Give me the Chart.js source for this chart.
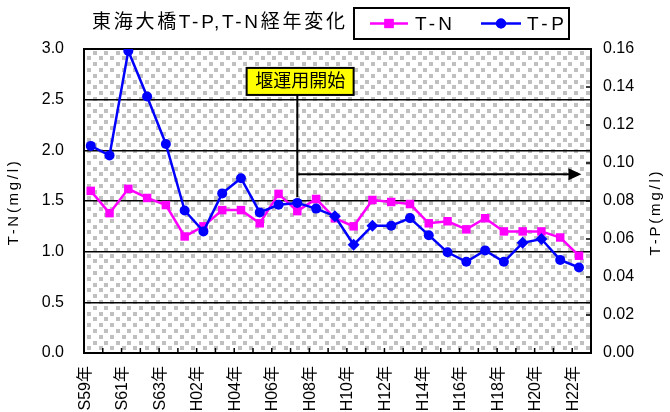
<!DOCTYPE html>
<html>
<head>
<meta charset="utf-8">
<script src="https://cdn.jsdelivr.net/npm/chart.js@4"></script>
<style>
  html, body { margin: 0; padding: 0; background: #fff; }
  #c { display: block; }
</style>
</head>
<body>
<canvas id="c" width="670" height="412"></canvas>
<script>
// Survey years (Showa 59 – Heisei 22)
const years = ['S59年','S60年','S61年','S62年','S63年','H01年','H02年','H03年','H04年','H05年',
  'H06年','H07年','H08年','H09年','H10年','H11年','H12年','H13年','H14年','H15年',
  'H16年','H17年','H18年','H19年','H20年','H21年','H22年'];

// Annual mean total nitrogen (mg/l), left axis
const tnValues = [1.60, 1.38, 1.62, 1.53, 1.46, 1.15, 1.25, 1.41, 1.41, 1.28,
  1.57, 1.40, 1.52, 1.33, 1.25, 1.51, 1.49, 1.47, 1.28, 1.30,
  1.22, 1.33, 1.20, 1.20, 1.20, 1.14, 0.96];

// Annual mean total phosphorus (mg/l), right axis
const tpValues = [0.109, 0.104, 0.159, 0.135, 0.110, 0.075, 0.064, 0.084, 0.092, 0.074,
  0.078, 0.079, 0.076, 0.072, 0.057, 0.067, 0.067, 0.071, 0.062, 0.053,
  0.048, 0.054, 0.048, 0.058, 0.060, 0.049, 0.045];

// Marker shape per T-P point
const tpMarkers = ['circle','circle','circle','circle','circle','circle','circle','circle','circle','circle',
  'circle','circle','circle','rectRot','rectRot','rectRot','circle','circle','circle','circle',
  'circle','circle','circle','rectRot','rectRot','circle','circle'];

// Axis ranges and steps
const tnAxis = { min: 0, max: 3.0, step: 0.5 };
const tpAxis = { min: 0, max: 0.16, step: 0.02 };

// Weir operation start (H07) annotation
const weirNote = { text: '堰運用開始', index: 11, boxIndex: 11.15, boxLevel: 2.68, lineTop: 2.55, lineBottom: 1.54, arrowLevel: 1.765, arrowEnd: 26.13 };

const chartTitle = '東海大橋T-P,T-N経年変化';
const tnTitle = 'T-N(mg/l)';
const tpTitle = 'T-P(mg/l)';

const FONT = '"Liberation Sans", "Noto Sans CJK JP", Arial, sans-serif';
Chart.defaults.font.family = FONT;
Chart.defaults.color = '#000';

// category slots start a little left of each point
const xMin = -0.36, xMax = 26.64, labelShift = -0.3;

function fitText(ctx, text, width) {
  ctx.letterSpacing = '0px';
  const w = ctx.measureText(text).width;
  const sp = (width - w) / Math.max(text.length - 1, 1);
  ctx.letterSpacing = sp.toFixed(2) + 'px';
}

const decor = {
  id: 'decor',
  beforeDraw(chart) {
    const { ctx, chartArea: a } = chart;
    ctx.save();
    ctx.fillStyle = '#fff';
    ctx.fillRect(a.left, a.top, a.right - a.left, a.bottom - a.top);
    ctx.beginPath();
    ctx.rect(a.left, a.top, a.right - a.left, a.bottom - a.top);
    ctx.clip();
    // dotted gray fill of the plot area
    ctx.fillStyle = '#c0c0c0';
    const p = 11.6, s = 4;
    for (let r = -1; a.top + 1.5 + r * p / 2 < a.bottom; r++) {
      const y = a.top + 1.5 + r * p / 2;
      const x0 = a.left + 8.7 - p + ((r & 1) ? p / 2 : 0);
      for (let x = x0; x < a.right; x += p) ctx.fillRect(Math.round(x), Math.round(y), s, s);
    }
    ctx.restore();
  },
  beforeDatasetsDraw(chart) {
    const { ctx, chartArea: a, scales } = chart;
    ctx.save();
    ctx.strokeStyle = '#000';
    // inward tick marks on the category axis
    ctx.lineWidth = 1.5;
    ctx.beginPath();
    for (let k = 0; k <= years.length; k++) {
      const x = scales.x.getPixelForValue(xMin + k);
      ctx.moveTo(x, a.bottom);
      ctx.lineTo(x, a.bottom - 5);
    }
    // inward tick marks on the T-P axis
    for (let v = tpAxis.min; v <= tpAxis.max + 1e-9; v += tpAxis.step) {
      const y = scales.y1.getPixelForValue(v);
      ctx.moveTo(a.right, y);
      ctx.lineTo(a.right - 5, y);
    }
    ctx.stroke();
    // plot frame
    ctx.lineWidth = 2;
    ctx.strokeRect(a.left, a.top, a.right - a.left, a.bottom - a.top);
    ctx.restore();
  },
  afterDatasetsDraw(chart) {
    const { ctx, scales } = chart;
    const xs = scales.x, ys = scales.y;
    ctx.save();
    ctx.strokeStyle = '#000';
    ctx.fillStyle = '#000';
    ctx.lineWidth = 2;
    const lx = xs.getPixelForValue(weirNote.index);
    const ay = ys.getPixelForValue(weirNote.arrowLevel);
    const ax = xs.getPixelForValue(weirNote.arrowEnd);
    ctx.beginPath();
    ctx.moveTo(lx, ys.getPixelForValue(weirNote.lineTop));
    ctx.lineTo(lx, ys.getPixelForValue(weirNote.lineBottom));
    ctx.moveTo(lx, ay);
    ctx.lineTo(ax - 10, ay);
    ctx.stroke();
    ctx.beginPath();
    ctx.moveTo(ax, ay);
    ctx.lineTo(ax - 13, ay - 6);
    ctx.lineTo(ax - 13, ay + 6);
    ctx.closePath();
    ctx.fill();
    // label box
    const bw = 107, bh = 27;
    const bx = xs.getPixelForValue(weirNote.boxIndex) - bw / 2;
    const by = ys.getPixelForValue(weirNote.boxLevel) - bh / 2;
    ctx.fillStyle = '#ffff00';
    ctx.fillRect(bx, by, bw, bh);
    ctx.strokeRect(bx, by, bw, bh);
    ctx.fillStyle = '#000';
    ctx.font = '18px ' + FONT;
    ctx.textAlign = 'center';
    ctx.textBaseline = 'middle';
    ctx.fillText(weirNote.text, bx + bw / 2, by + bh / 2 + 1);
    ctx.restore();
  },
  afterDraw(chart) {
    const { ctx } = chart;
    ctx.save();
    ctx.fillStyle = '#000';
    ctx.textBaseline = 'middle';
    // chart title
    ctx.font = '19px ' + FONT;
    ctx.textAlign = 'left';
    fitText(ctx, chartTitle, 253);
    ctx.fillText(chartTitle, 92, 23);
    // legend box
    ctx.letterSpacing = '0px';
    ctx.fillStyle = '#fff';
    ctx.fillRect(354, 8, 215, 31);
    ctx.strokeStyle = '#000';
    ctx.lineWidth = 2;
    ctx.strokeRect(354, 8, 215, 31);
    const items = [
      { ds: chart.data.datasets[0], x0: 370, x1: 408, tx: 415 },
      { ds: chart.data.datasets[1], x0: 481, x1: 521, tx: 527 }
    ];
    const ly = 23.5;
    items.forEach(it => {
      const col = it.ds.borderColor;
      ctx.strokeStyle = col;
      ctx.fillStyle = col;
      ctx.lineWidth = 2.5;
      ctx.beginPath();
      ctx.moveTo(it.x0, ly);
      ctx.lineTo(it.x1, ly);
      ctx.stroke();
      const style = Array.isArray(it.ds.pointStyle) ? it.ds.pointStyle[0] : it.ds.pointStyle;
      Chart.helpers.drawPoint(ctx, { pointStyle: style, radius: style === 'rect' ? 6.5 : 5, borderWidth: 0 }, (it.x0 + it.x1) / 2, ly);
      ctx.fill();
      ctx.fillStyle = '#000';
      ctx.font = '19px ' + FONT;
      fitText(ctx, it.ds.label, 37);
      ctx.fillText(it.ds.label, it.tx, ly + 1);
      ctx.letterSpacing = '0px';
    });
    // axis titles
    ctx.font = '15px ' + FONT;
    ctx.textAlign = 'center';
    ctx.fillStyle = '#000';
    [[tnTitle, 14, 202], [tpTitle, 656, 212]].forEach(([t, x, y]) => {
      ctx.save();
      ctx.translate(x, y);
      ctx.rotate(-Math.PI / 2);
      fitText(ctx, t, 84);
      ctx.fillText(t, 0, 0);
      ctx.restore();
    });
    ctx.restore();
  }
};

new Chart(document.getElementById('c'), {
  type: 'line',
  data: {
    datasets: [
      {
        label: 'T-N',
        data: tnValues.map((v, i) => ({ x: i, y: v })),
        yAxisID: 'y',
        borderColor: '#ff00ff',
        backgroundColor: '#ff00ff',
        borderWidth: 2.5,
        pointStyle: 'rect',
        pointRadius: 6,
        pointBorderWidth: 0,
        tension: 0,
        order: 2
      },
      {
        label: 'T-P',
        data: tpValues.map((v, i) => ({ x: i, y: v })),
        yAxisID: 'y1',
        borderColor: '#0000ff',
        backgroundColor: '#0000ff',
        borderWidth: 2.5,
        pointStyle: tpMarkers,
        pointRadius: c => tpMarkers[c.dataIndex] === 'rectRot' ? 6 : 5,
        pointBorderWidth: 0,
        tension: 0,
        order: 1
      }
    ]
  },
  options: {
    responsive: false,
    devicePixelRatio: 1,
    animation: false,
    events: [],
    layout: { padding: { top: 49, left: 0, right: 0, bottom: 0 } },
    plugins: { legend: { display: false }, title: { display: false }, tooltip: { enabled: false } },
    scales: {
      x: {
        type: 'linear',
        min: xMin,
        max: xMax,
        grid: { display: false },
        border: { display: false },
        afterBuildTicks: s => {
          s.ticks = years.map((_, i) => i).filter(i => i % 2 === 0).map(i => ({ value: i + labelShift }));
        },
        afterFit: s => { s.height = 59; },
        ticks: {
          autoSkip: false,
          minRotation: 90,
          maxRotation: 90,
          padding: 5,
          font: { size: 16 },
          callback: v => years[Math.round(v - labelShift)]
        }
      },
      y: {
        position: 'left',
        min: tnAxis.min,
        max: tnAxis.max,
        afterFit: s => { s.width = 84; },
        grid: { color: '#000', lineWidth: 1.5, drawTicks: false },
        border: { display: false },
        ticks: { stepSize: tnAxis.step, padding: 20, font: { size: 16 }, callback: v => v.toFixed(1) }
      },
      y1: {
        position: 'right',
        min: tpAxis.min,
        max: tpAxis.max,
        afterFit: s => { s.width = 79; },
        grid: { display: false, drawTicks: false },
        border: { display: false },
        ticks: { stepSize: tpAxis.step, padding: 12, font: { size: 16 }, callback: v => v.toFixed(2) }
      }
    }
  },
  plugins: [decor]
});
</script>
</body>
</html>
